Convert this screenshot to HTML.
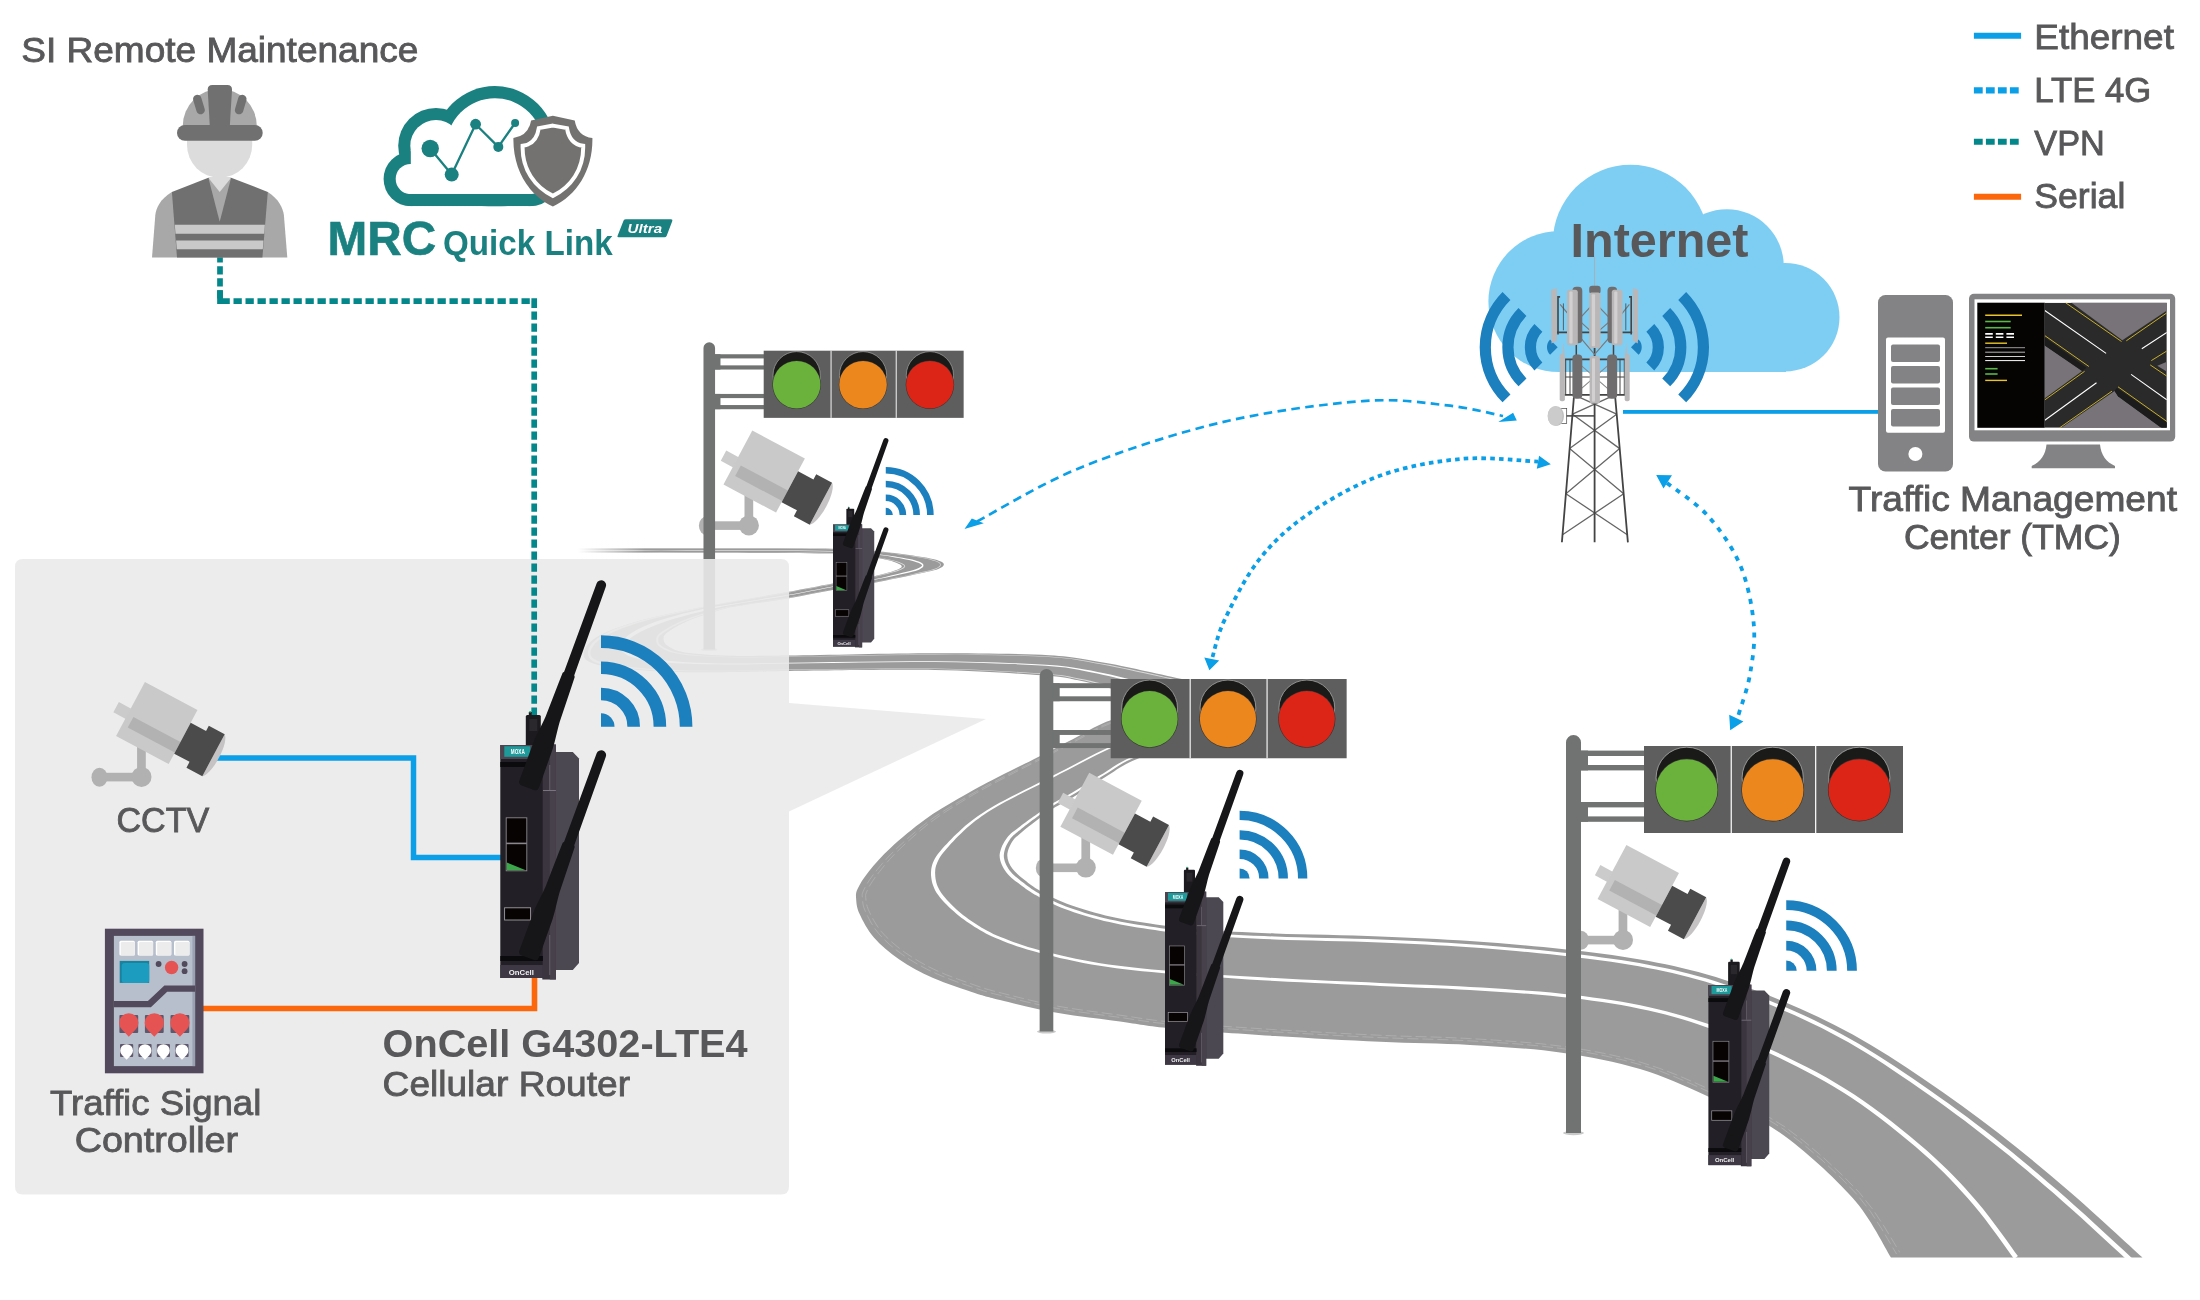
<!DOCTYPE html>
<html lang="en"><head><meta charset="utf-8"><title>OnCell G4302-LTE4 traffic application</title>
<style>
html,body{margin:0;padding:0;background:#fff}
body{width:2200px;height:1300px;overflow:hidden}
svg{display:block;will-change:transform}
text{font-family:"Liberation Sans",sans-serif}
</style></head><body>
<svg width="2200" height="1300" viewBox="0 0 2200 1300">
<defs>
<linearGradient id="fadeL" gradientUnits="userSpaceOnUse" x1="578" y1="0" x2="645" y2="0"><stop offset="0" stop-color="#fff" stop-opacity="1"/><stop offset="1" stop-color="#fff" stop-opacity="0"/></linearGradient>
<path id="ant" d="M-10.4 0 L-10.2 -40 C-9.6 -52 -8 -60 -7.5 -69 L-6.7 -106 L-6.4 -116 L-5.4 -117.5 L-4.9 -211.5 A4.9 4.9 0 0 1 4.9 -211.5 L5.4 -117.5 L6.4 -116 L6.7 -106 L7.5 -69 C8 -60 9.6 -52 10.2 -40 L10.4 0 Q10.4 4 6.5 4 L-6.5 4 Q-10.4 4 -10.4 0Z" fill="#161517"/>
<g id="wifi" fill="none" stroke="#1c7fbe" stroke-width="12.6"><path d="M0 -32.7 A32.7 32.7 0 0 1 32.7 0"/><path d="M0 -58.9 A58.9 58.9 0 0 1 58.9 0"/><path d="M0 -85.1 A85.1 85.1 0 0 1 85.1 0"/><path d="M0 0 L0 -13.5 A13.5 13.5 0 0 1 13.5 0Z" fill="#1c7fbe" stroke="none"/></g>
<g id="router"><rect x="25.5" y="-30" width="15" height="31" rx="1.5" fill="#1c1a1e"/><rect x="29" y="-26" width="8" height="12" fill="#2a272d"/><rect x="28.5" y="-33" width="3" height="4" fill="#1c1a1e"/><rect x="29" y="-34" width="1.6" height="1.6" fill="#27b37a"/><path d="M54 7 L72.5 7 L78.7 13.5 L78.7 218 L72.5 225 L54 225Z" fill="#4b4852"/><rect x="42" y="-0.5" width="13.6" height="235" fill="#3b353f"/><rect x="49.5" y="-0.5" width="6.1" height="235" fill="#47414c"/><rect x="42.6" y="45" width="13" height="1" fill="#7a7480"/><rect x="49" y="20" width="0.9" height="25" fill="#6a6470"/><rect x="49" y="190" width="0.9" height="40" fill="#6a6470"/><rect x="0" y="0" width="42.6" height="233" fill="#231f26"/><rect x="0" y="0" width="42.6" height="14" fill="#4a4550"/><rect x="4" y="1.2" width="26" height="10.6" fill="#1f9a9b"/><text x="10.5" y="9.3" font-size="6.4" font-weight="bold" fill="#fff" textLength="14" lengthAdjust="spacingAndGlyphs">MOXA</text><rect x="0" y="17" width="42.6" height="5" fill="#0b0a0c"/><rect x="0" y="211" width="42.6" height="5" fill="#0b0a0c"/><rect x="0" y="220" width="42.6" height="13" fill="#3d3844"/><text x="8.5" y="229.6" font-size="6.6" font-weight="bold" fill="#f2f2f2" textLength="25" lengthAdjust="spacingAndGlyphs">OnCell</text><rect x="5.9" y="72.8" width="20.6" height="53" fill="#070303" stroke="#8b888d" stroke-width="0.9"/><rect x="5.9" y="97.6" width="20.6" height="1.6" fill="#8b888d"/><path d="M6.5 125.3 L6.5 117.5 L25.5 125.3Z" fill="#3ba64a"/><rect x="4.3" y="162.8" width="26" height="12.2" fill="#070303" stroke="#a09da2" stroke-width="0.9"/><use href="#ant" transform="translate(28.9 39) rotate(19.9)"/><use href="#ant" transform="translate(28.9 209) rotate(19.9)"/><use href="#wifi" transform="translate(100.7 -18.3)"/></g>
<g id="camhead"><path d="M95 8.5 L95 56 C103 50 103 14.5 95 8.5Z" fill="#c5c3c4"/><rect x="-13.5" y="30" width="14" height="11.6" fill="#cbcbcb"/><rect x="0" y="0" width="59.6" height="61.2" fill="#c9c9c9"/><rect x="6.3" y="36.2" width="53.3" height="12" fill="#b2b2b2"/><path d="M59.6 14.4 L77 14.4 L77 8.5 L95 8.5 L95 56 L77 56 L77 49.4 L59.6 49.4Z" fill="#4b4b4b"/></g>
<g id="cam"><rect x="-7.8" y="60" width="8.7" height="35" fill="#b1b1b1"/><rect x="-45.4" y="90.8" width="42" height="8.6" fill="#b1b1b1"/><ellipse cx="-45.4" cy="95.3" rx="8" ry="9.5" fill="#b1b1b1"/><circle cx="-3.4" cy="94.9" r="10" fill="#b1b1b1"/><use href="#camhead" transform="rotate(28.1)"/></g>
<g id="tl"><ellipse cx="-70.5" cy="387" rx="10.5" ry="2.2" fill="#c9c9c9"/><path d="M-78 387 L-78 -3.5 A7.5 7.5 0 0 1 -63 -3.5 L-63 387Z" fill="#717373"/><rect x="-64" y="4.6" width="66" height="5.4" fill="#717373"/><rect x="-64" y="19" width="66" height="5.4" fill="#717373"/><rect x="-64" y="4.6" width="8" height="19.8" fill="#717373"/><rect x="-64" y="56" width="66" height="5.4" fill="#717373"/><rect x="-64" y="70.4" width="66" height="5.4" fill="#717373"/><rect x="-64" y="56" width="8" height="19.8" fill="#717373"/><rect x="0" y="0" width="259" height="87" fill="#5e5e5e"/><rect x="86.6" y="0" width="1.3" height="87" fill="#f4f4f4"/><rect x="171" y="0" width="1.3" height="87" fill="#f4f4f4"/><circle cx="42.7" cy="31.8" r="30.6" fill="#1a1a18" stroke="#bdbdbd" stroke-width="0.7"/><circle cx="42.7" cy="44" r="31.4" fill="#333"/><circle cx="42.7" cy="44" r="30.8" fill="#6ab23c"/><circle cx="128.7" cy="31.8" r="30.6" fill="#1a1a18" stroke="#bdbdbd" stroke-width="0.7"/><circle cx="128.7" cy="44" r="31.4" fill="#333"/><circle cx="128.7" cy="44" r="30.8" fill="#ec871e"/><circle cx="215.3" cy="31.8" r="30.6" fill="#1a1a18" stroke="#bdbdbd" stroke-width="0.7"/><circle cx="215.3" cy="44" r="31.4" fill="#333"/><circle cx="215.3" cy="44" r="30.8" fill="#dc2516"/></g>
</defs>
<g id="road">
<path d="M575 548.2C597.5 548.2 667.2 548.1 710 548.2C752.8 548.3 804.6 548.2 832 548.7C859.4 549.2 862.2 549.9 874.5 550.9C886.8 551.9 895.8 553.1 905.5 554.5C915.2 555.9 926.4 557.5 932.7 559C939.1 560.5 942.7 561.9 943.6 563.6C944.5 565.3 943.1 567.2 938.2 569C933.4 570.8 925.1 572.2 914.5 574.5C903.9 576.8 888.1 580.1 874.5 582.7C860.9 585.3 847 587.4 832.7 590C818.5 592.6 804.1 595.6 789 598.2C773.9 600.8 752.7 603.7 741.8 605.5C730.9 607.3 732.2 606.6 723.6 609C715 611.4 699.3 616.2 690 620C680.7 623.8 672.4 628.8 668 632C663.6 635.2 663.6 636.7 663.6 639C663.6 641.3 664.4 643.8 668 646C671.6 648.2 674.7 650.9 685 652.5C695.3 654.1 712.7 655.3 730 655.8C747.3 656.3 754.8 655.9 789 655.5C823.2 655.1 891.6 653.2 935 653.2C978.4 653.2 1020.9 653.6 1049.2 655.2C1077.5 656.8 1088.4 660.1 1104.6 662.8C1120.8 665.5 1133.2 668.5 1146.1 671.2C1159 673.9 1176 677.7 1182 679L1150 700C1143.5 698.1 1123 691.8 1110.8 688.5C1098.6 685.2 1088.3 682.3 1076.9 680.1C1065.5 677.9 1066 677 1042.3 675.3C1018.6 673.6 977.2 670.7 935 670C892.8 669.3 824.2 670.5 789 670.9C753.8 671.3 746.6 672.2 723.6 672.2C700.6 672.2 672.1 672.2 650.9 670.9C629.7 669.6 607.6 667.4 596.4 664.5C585.2 661.6 583.6 658.1 583.6 653.6C583.6 649.1 588.2 642.4 596.4 637.3C604.6 632.1 617.6 627.2 632.7 622.7C647.9 618.2 669.1 613.8 687.3 610C705.5 606.2 724.8 603 741.8 600C758.8 597 773.9 594.5 789 591.8C804.1 589.1 819.9 585.9 832.7 583.6C845.5 581.3 857.3 579.7 866 578C874.7 576.3 879.9 574.8 885 573.5C890.1 572.2 893.6 571.2 896.4 570C899.2 568.8 901.8 567.6 901.8 566.4C901.8 565.2 899.2 563.9 896.4 562.7C893.6 561.6 890.1 560.6 885 559.5C879.9 558.4 874.8 557.3 866 556.3C857.2 555.3 858 554.2 832 553.6C806 553 752.8 552.9 710 552.7C667.2 552.6 597.5 552.7 575 552.7Z" fill="#9b9b9b"/>
<path d="M575 550.7L589.8 550.7L610.5 550.7L634.9 550.7L661 550.6L686.7 550.7L710 550.7L732.1 550.8L754.7 550.8L777 550.9L798 551L816.7 551.2L832 551.4L843.4 551.7L851.4 552L857.2 552.5L861.6 552.9L865.6 553.4L870.2 553.8L875.2 554.4L879.7 554.9L883.9 555.5L887.8 556.1L891.5 556.7L895.2 557.4L898.9 558L902.4 558.7L905.9 559.4L909 560.1L911.9 560.8L914.4 561.5L916.5 562.2L918.3 562.8L919.9 563.5L921 564.2L921.7 564.8L922 565.2L922 565.6L921.8 566L921.1 566.6L920.1 567.3L918.7 568.1L917 568.8L915 569.6L912.6 570.3L909.9 571L906.8 571.8L903.4 572.6L899.6 573.5L895.5 574.5L891 575.6L886.2 576.7L881.1 577.9L875.7 579L870.2 580.1L864.5 581.2L858.5 582.2L852.3 583.2L845.9 584.3L839.4 585.4L832.7 586.6L825.8 587.8L818.7 589.2L811.4 590.6L804 592L796.5 593.4L788.9 594.7L781.2 596L773.1 597.3L764.9 598.6L756.8 599.9L749 601.2L741.7 602.4L735.1 603.5L729.1 604.5L723.4 605.5L717.6 606.3L711.7 607.3L705.2 608.6L698.1 610.2L690.5 611.9L682.6 613.8L674.9 615.9L667.5 617.9L660.9 620L654.9 622.1L649.2 624.3L643.9 626.5L639.1 628.8L634.8 631L631.2 633.2L628.2 635.3L625.8 637.4L623.9 639.6L622.6 641.8L621.8 644.1L621.6 646.3L621.7 648.3L622.3 650.4L623.6 652.4L625.5 654.1L628.1 655.7L631.6 657L635.9 658.2L640.9 659.3L646.7 660.3L653.1 661.2L660.2 662L667.9 662.7L676.3 663.2L685.7 663.6L695.7 663.9L706.1 664.2L716.5 664.3L726.8 664.4L736 664.5L744.2 664.4L752.5 664.2L761.9 664L773.8 663.8L789 663.6L808.9 663.3L832.8 662.9L859 662.5L885.8 662.2L911.7 662L935 662L956.3 662.3L977 662.8L996.7 663.4L1015 664.1L1031.5 664.9L1045.7 665.8L1057.1 666.7L1065.8 667.6L1072.7 668.7L1078.6 669.8L1084.3 671L1090.6 672.3L1097.3 673.6L1103.7 674.9L1109.9 676.3L1115.9 677.8L1122 679.3L1128.2 680.8L1134.9 682.5L1142.1 684.3L1149.3 686.1L1156 687.9L1161.7 689.4L1165.8 690.4L1166.2 688.6L1162.2 687.5L1156.5 686L1149.8 684.3L1142.6 682.4L1135.4 680.5L1128.7 678.9L1122.5 677.4L1116.4 676L1110.3 674.5L1104.1 673.2L1097.6 671.9L1090.9 670.6L1084.6 669.5L1078.9 668.4L1072.9 667.4L1066 666.5L1057.2 665.6L1045.8 664.7L1031.5 663.9L1015 663.2L996.7 662.5L977 661.9L956.3 661.4L935 661.2L911.7 661.2L885.8 661.4L859 661.7L832.8 662.1L808.9 662.5L789 662.8L773.7 663L761.9 663.3L752.4 663.4L744.2 663.6L736 663.6L726.8 663.6L716.5 663.4L706.1 663.1L695.7 662.7L685.8 662.2L676.4 661.5L668 660.7L660.5 659.8L653.5 658.7L647.2 657.5L641.6 656.2L636.8 654.8L632.8 653.5L629.8 652.2L627.9 651L626.7 649.8L626 648.7L625.7 647.6L625.6 646.3L625.8 645L626.2 643.5L627.1 641.9L628.5 640.1L630.5 638.1L633.2 636.1L636.6 634L640.6 631.8L645.2 629.5L650.4 627.2L655.9 624.9L661.8 622.7L668.3 620.5L675.6 618.3L683.3 616.2L691 614.1L698.6 612.2L705.7 610.4L712 608.8L717.9 607.5L723.5 606.3L729.2 605.2L735.3 604.2L741.9 603.1L749.1 601.9L756.9 600.6L765 599.3L773.2 598L781.3 596.7L789.1 595.3L796.6 593.9L804.1 592.5L811.5 591.1L818.8 589.7L825.9 588.3L832.7 587L839.4 585.9L846 584.8L852.4 583.7L858.6 582.7L864.6 581.6L870.3 580.6L875.8 579.5L881.2 578.4L886.3 577.4L891.2 576.4L895.7 575.4L899.9 574.5L903.6 573.7L907.1 573L910.2 572.3L913 571.6L915.4 570.9L917.6 570.2L919.4 569.4L920.9 568.6L922.1 567.8L923 566.9L923.4 565.9L923.4 564.8L922.8 563.8L921.8 563L920.5 562.3L918.8 561.6L916.9 560.9L914.7 560.2L912.2 559.6L909.3 559L906.1 558.4L902.6 557.8L899 557.2L895.3 556.6L891.6 556.1L887.9 555.5L884 555L879.8 554.4L875.3 553.9L870.3 553.4L865.6 552.9L861.6 552.4L857.2 552L851.5 551.6L843.4 551.2L832 550.9L816.7 550.7L798 550.5L777 550.4L754.7 550.3L732.1 550.3L710 550.2L686.7 550.2L661 550.2L634.9 550.2L610.5 550.2L589.8 550.2L575 550.2Z" fill="#fff"/>
<path d="M575 548.7L589.8 548.7L610.5 548.7L634.9 548.7L661 548.7L686.7 548.7L710 548.7L732 548.7L754.6 548.8L776.8 548.8L797.8 548.9L816.5 549L832 549.2L843.7 549.5L852.3 549.8L858.6 550.2L863.7 550.6L868.4 551L873.8 551.5L879.5 552L884.8 552.5L889.8 553.1L894.6 553.7L899.2 554.4L903.8 555.1L908.6 555.8L913.3 556.5L918 557.3L922.4 558.1L926.4 558.8L929.7 559.6L932.5 560.4L934.9 561.1L936.8 561.8L938.3 562.6L939.4 563.3L939.9 564L940.1 564.7L939.9 565.4L939.4 566.1L938.3 567L936.8 567.9L934.7 568.7L932.2 569.6L929.1 570.4L925.5 571.3L921.4 572.1L917 573.1L912.1 574.2L906.6 575.4L900.6 576.7L894.1 578.1L887.4 579.5L880.5 580.9L873.8 582.2L867.1 583.4L860.4 584.6L853.6 585.7L846.7 586.9L839.7 588.1L832.7 589.4L825.6 590.7L818.4 592L811.2 593.4L803.9 594.8L796.5 596.2L789 597.5L781 598.8L772.5 600.1L764 601.4L755.7 602.7L748.2 603.8L741.8 604.9L736.9 605.6L733.3 606.2L730.5 606.6L727.8 607L724.6 607.7L720.6 608.6L715.4 610L709.4 611.7L703 613.6L696.6 615.6L690.5 617.6L685.2 619.5L680.3 621.6L675.8 623.7L671.6 625.8L667.8 627.9L664.5 629.9L661.8 631.7L659.7 633.3L658.2 634.7L657.1 636.1L656.5 637.5L656.2 638.8L656.2 640.2L656.3 641.6L656.6 643L657.3 644.4L658.4 645.8L659.9 647.1L661.8 648.3L664 649.4L666.5 650.6L669.4 651.7L672.9 652.7L677.1 653.6L682.2 654.5L688.4 655.2L695.5 655.8L703.4 656.3L711.8 656.7L720.6 657.1L729.5 657.3L737.7 657.5L745.2 657.5L753.1 657.5L762.3 657.3L773.9 657.1L789 656.9L808.7 656.6L832.5 656.2L858.6 655.7L885.5 655.2L911.5 654.9L935 654.8L956.5 654.8L977.5 655L997.6 655.3L1016.4 655.8L1033.5 656.3L1048.6 657.1L1061.2 658L1071.4 659.1L1080 660.4L1087.6 661.8L1094.8 663.2L1102.3 664.6L1109.9 666L1117.1 667.4L1123.8 668.8L1130.4 670.2L1136.8 671.7L1143.2 673.1L1149.9 674.5L1156.9 676.1L1163.8 677.6L1170.1 679.1L1175.5 680.3L1179.3 681.1L1179.5 680.2L1175.7 679.3L1170.3 678.1L1164 676.7L1157.1 675.1L1150.1 673.6L1143.4 672.1L1137 670.7L1130.6 669.3L1124 667.9L1117.2 666.5L1110.1 665.1L1102.5 663.8L1094.9 662.5L1087.7 661.1L1080.1 659.8L1071.5 658.6L1061.2 657.5L1048.7 656.5L1033.6 655.8L1016.4 655.3L997.6 654.8L977.5 654.6L956.5 654.4L935 654.3L911.5 654.5L885.5 654.8L858.6 655.3L832.5 655.8L808.7 656.2L789 656.5L773.9 656.7L762.3 656.9L753.1 657.1L745.2 657.1L737.7 657.1L729.5 656.9L720.6 656.6L711.8 656.2L703.4 655.7L695.6 655L688.5 654.3L682.3 653.5L677.3 652.6L673.2 651.5L669.9 650.3L667.2 649.1L664.8 647.9L662.7 646.7L661 645.5L659.8 644.4L659 643.4L658.5 642.3L658.3 641.3L658.2 640.2L658.3 639.1L658.4 638.1L658.8 637.1L659.6 636L660.9 634.7L662.8 633.2L665.4 631.4L668.6 629.4L672.3 627.3L676.5 625.1L681 622.9L685.7 620.9L691 618.9L697 616.8L703.4 614.7L709.7 612.8L715.6 611L720.8 609.5L724.8 608.4L727.9 607.6L730.5 607L733.4 606.6L737 606L741.8 605.3L748.2 604.2L755.8 603.1L764 601.8L772.6 600.5L781.1 599.2L789 597.9L796.5 596.5L803.9 595.1L811.3 593.7L818.5 592.3L825.6 590.9L832.7 589.6L839.8 588.4L846.7 587.2L853.6 586L860.4 584.9L867.2 583.7L873.8 582.5L880.6 581.2L887.4 579.8L894.2 578.4L900.7 577.1L906.7 575.8L912.2 574.7L917.1 573.7L921.6 572.7L925.6 571.9L929.2 571.1L932.4 570.3L935 569.4L937.1 568.5L938.7 567.6L939.9 566.7L940.6 565.7L940.8 564.7L940.6 563.7L939.9 562.8L938.7 561.9L937.1 561.2L935.1 560.4L932.7 559.7L929.9 559L926.5 558.3L922.5 557.5L918.1 556.8L913.4 556.1L908.6 555.4L903.9 554.7L899.3 554.1L894.6 553.5L889.8 552.8L884.9 552.3L879.6 551.7L873.8 551.2L868.5 550.7L863.7 550.3L858.7 549.9L852.3 549.5L843.8 549.2L832 549L816.5 548.8L797.8 548.6L776.8 548.5L754.6 548.5L732 548.5L710 548.4L686.7 548.4L661 548.4L634.9 548.4L610.5 548.4L589.8 548.4L575 548.4Z" fill="#d9d9d9"/>
<path d="M575 552.6L589.8 552.5L610.5 552.5L634.9 552.5L661 552.5L686.7 552.5L710 552.6L732.1 552.6L754.9 552.7L777.3 552.8L798.3 553L816.9 553.2L832 553.4L843 553.8L850.5 554.2L855.7 554.6L859.4 555.1L862.7 555.6L866.6 556.1L870.8 556.6L874.5 557.1L877.9 557.7L880.9 558.2L883.7 558.8L886.4 559.4L889 559.9L891.3 560.5L893.5 561.1L895.4 561.6L897.2 562.2L898.8 562.8L900.3 563.4L901.6 564L902.7 564.7L903.6 565.3L904.1 565.8L904.3 566.2L904.2 566.6L903.7 567.1L902.9 567.7L901.8 568.3L900.6 568.9L899.2 569.5L897.6 570.1L895.9 570.7L894 571.3L891.9 571.9L889.6 572.6L887 573.3L884.2 574L881.3 574.8L878.1 575.6L874.7 576.5L870.8 577.3L866.6 578.2L861.8 579L856.6 579.9L851.1 580.8L845.2 581.7L839 582.8L832.7 583.9L826 585.1L819 586.4L811.6 587.8L804.2 589.3L796.6 590.7L789 592L781.3 593.3L773.7 594.7L765.9 596L758 597.3L749.9 598.7L741.8 600.1L733.4 601.6L724.8 603.1L716.1 604.6L707.4 606.1L698.5 607.7L689.7 609.4L680.7 611.2L671.4 613.2L662.1 615.2L653 617.3L644.3 619.5L636.5 621.7L629.2 623.9L622.4 626.2L616.1 628.6L610.4 631L605.3 633.5L600.8 636L597.1 638.7L593.9 641.4L591.4 644.3L589.6 647.1L588.4 649.9L588 652.5L588.2 654.9L588.9 657.2L590.4 659.3L592.9 661.2L596.4 662.8L601.1 664.3L607.3 665.6L614.9 666.8L623.6 667.8L633.1 668.8L643 669.5L653.3 670.2L664 670.7L675.7 671L687.8 671.2L700.2 671.3L712.4 671.3L724 671.3L734.3 671.2L743.1 671.1L751.8 670.8L761.6 670.6L773.6 670.3L789 670.1L809.1 669.8L833.1 669.5L859.3 669.2L886.2 668.9L911.9 668.9L935 669.1L956 669.6L976.4 670.3L995.7 671.3L1013.6 672.3L1029.4 673.3L1042.8 674.2L1052.9 675L1060.1 675.8L1065.3 676.6L1069.5 677.4L1073.7 678.3L1078.7 679.4L1084.5 680.6L1090.1 681.9L1095.7 683.2L1101.4 684.7L1107.1 686.2L1113.1 687.9L1119.8 689.7L1127.2 691.8L1134.7 694L1141.8 696.1L1147.8 697.8L1152.1 699.1L1152.4 698L1148.1 696.7L1142.1 695L1135.1 692.9L1127.5 690.7L1120.1 688.6L1113.4 686.7L1107.4 685.1L1101.7 683.6L1096 682.2L1090.4 680.8L1084.7 679.6L1078.9 678.4L1073.8 677.4L1069.7 676.6L1065.5 675.8L1060.2 675.1L1053 674.4L1042.8 673.6L1029.4 672.7L1013.6 671.7L995.8 670.7L976.4 669.8L956 669.1L935 668.6L911.9 668.4L886.2 668.4L859.3 668.7L833.1 669L809.1 669.3L789 669.6L773.5 669.8L761.6 670.1L751.8 670.3L743.1 670.6L734.3 670.7L724 670.8L712.4 670.7L700.2 670.6L687.9 670.4L675.7 670.1L664.1 669.7L653.3 669L643.1 668.2L633.2 667.2L623.8 666.1L615.2 664.9L607.7 663.6L601.7 662.1L597.2 660.7L594.1 659.1L592.2 657.6L591.1 656.1L590.6 654.5L590.4 652.6L590.7 650.6L591.7 648.2L593.3 645.7L595.5 643L598.4 640.4L602 637.8L606.2 635.4L611.2 632.9L616.9 630.4L623.1 628L629.8 625.7L637 623.3L644.8 621.1L653.3 618.8L662.4 616.6L671.7 614.5L681 612.4L690 610.5L698.7 608.6L707.5 606.8L716.2 605.1L724.9 603.6L733.5 602.1L741.8 600.6L750 599.2L758.1 597.8L766 596.5L773.7 595.2L781.4 593.8L789 592.5L796.6 591L804.2 589.6L811.7 588.2L819 586.8L826.1 585.4L832.7 584.2L839.1 583.1L845.3 582.1L851.1 581.1L856.7 580.2L861.9 579.4L866.6 578.5L870.9 577.6L874.8 576.8L878.2 576L881.4 575.3L884.4 574.6L887.1 573.9L889.7 573.2L892.1 572.6L894.2 572.1L896.2 571.5L897.9 570.9L899.5 570.3L900.9 569.7L902.3 569.1L903.4 568.5L904.3 567.8L904.9 567L905.2 566.2L904.8 565.3L904.1 564.6L903.2 563.9L902 563.3L900.6 562.7L899.1 562.1L897.4 561.5L895.6 561L893.6 560.5L891.5 560L889.1 559.4L886.5 558.9L883.8 558.4L880.9 557.9L877.9 557.3L874.6 556.8L870.9 556.3L866.6 555.7L862.7 555.3L859.4 554.8L855.7 554.3L850.6 553.8L843 553.4L832 553.1L816.9 552.8L798.3 552.6L777.3 552.5L754.9 552.4L732.1 552.3L710 552.2L686.7 552.2L661 552.1L634.9 552.2L610.5 552.2L589.8 552.2L575 552.2Z" fill="#dcdcdc"/>
<rect x="560" y="540" width="170" height="20" fill="url(#fadeL)"/>
<path d="M1150 700C1152.7 701.2 1166 704.8 1166 707C1166 709.2 1159.2 711.3 1150 713.5C1140.8 715.7 1123 716.4 1110.8 720.3C1098.6 724.2 1088.3 731.1 1076.9 736.9C1065.5 742.7 1056.4 747.7 1042.3 754.9C1028.2 762.1 1006.4 772.7 992.4 780C978.4 787.3 969.8 792 958.5 798.6C947.2 805.2 936 811.6 924.7 819.8C913.4 828 900.1 839.1 890.8 847.7C881.5 856.3 874.3 864.6 868.8 871.4C863.3 878.2 859.9 883.9 857.8 888.4C855.7 892.9 855.8 894.3 856.1 898.5C856.4 902.7 856.5 907.3 859.5 913.8C862.5 920.3 867.3 929.9 873.9 937.5C880.5 945.1 889.4 952.7 899.3 959.5C909.2 966.3 920.4 972.5 933.1 978.1C945.8 983.7 964.4 989.6 975.5 993.3C986.6 996.9 986.7 996.8 1000 1000C1013.3 1003.2 1035.4 1008.9 1055.4 1012.5C1075.4 1016.1 1100.6 1018.8 1120 1021.5C1139.4 1024.2 1146.2 1026.1 1172 1028.5C1197.8 1030.9 1240.3 1033.8 1275 1036C1309.7 1038.2 1347.5 1040.3 1380 1041.8C1412.5 1043.3 1439.7 1043.2 1470 1045C1500.3 1046.8 1533.5 1048.7 1561.8 1052.7C1590.1 1056.7 1615.8 1061.8 1640 1069C1664.2 1076.2 1683.7 1085.4 1707 1096C1730.3 1106.6 1755.7 1115.7 1780 1132.7C1804.3 1149.7 1834.2 1177.2 1852.7 1198C1871.2 1218.8 1884.6 1247.6 1891 1257.5L2142.5 1257.5C2130.4 1246.6 2094.1 1212.8 2070 1192C2045.9 1171.2 2022.2 1151.4 1998 1132.7C1973.8 1114 1949.2 1096.4 1925 1080C1900.8 1063.6 1876.9 1047.8 1852.7 1034.5C1828.5 1021.2 1804.3 1010 1780 1000C1755.7 990 1730.3 981.2 1707 974.5C1683.7 967.8 1664.2 963.8 1640 959.5C1615.8 955.2 1590.1 952.1 1561.8 949C1533.5 945.9 1500.3 943.1 1470 941C1439.7 938.9 1412.5 937.6 1380 936.4C1347.5 935.1 1305 934.6 1275 933.5C1245 932.4 1220.8 931.2 1200 929.5C1179.2 927.8 1165.8 925.9 1150 923.5C1134.2 921.1 1119.2 918.7 1105.4 915.4C1091.6 912.1 1077.8 907.9 1066.9 903.8C1056 899.7 1047 894.8 1040 890.8C1033 886.8 1029.2 883.7 1024.6 880C1020 876.3 1015.2 872.6 1012.3 868.5C1009.4 864.4 1007.3 859.9 1007.3 855.4C1007.3 850.9 1009.8 845.4 1012.3 841.5C1014.8 837.6 1018 835.5 1022 832C1026 828.5 1031 824.7 1036.2 820.8C1041.4 816.9 1046.7 812.6 1053.1 808.5C1059.5 804.4 1065.9 801.5 1074.6 796.2C1083.3 790.9 1094.5 783.3 1105.4 776.9C1116.3 770.5 1120.6 765.5 1140 757.7C1159.4 749.9 1206.7 739.6 1222 730C1237.3 720.4 1238.7 708.5 1232 700C1225.3 691.5 1190.3 682.5 1182 679Z" fill="#9b9b9b"/>
<path d="M1181.4 740.7L1169.3 744.1L1157.7 747.5L1147.2 750.8L1138.5 753.8L1131.7 756.7L1126.1 759.4L1121.4 761.9L1117.3 764.3L1113.7 766.6L1110.4 768.8L1107 771L1103.2 773.4L1099.1 775.8L1095 778.3L1090.9 780.9L1086.9 783.4L1083 785.9L1079.3 788.3L1075.7 790.5L1072.4 792.5L1069.3 794.3L1066.3 796L1063.5 797.5L1060.9 798.9L1058.3 800.3L1055.7 801.7L1053.2 803.1L1050.7 804.7L1048.2 806.2L1045.8 807.8L1043.6 809.3L1041.4 810.9L1039.3 812.4L1037.2 813.9L1035.2 815.4L1033.2 816.8L1031.2 818.2L1029.3 819.6L1027.3 821L1025.4 822.4L1023.6 823.8L1021.8 825.1L1020.1 826.5L1018.4 827.7L1016.9 828.9L1015.5 829.9L1014.1 831L1012.6 832.1L1011.1 833.3L1009.7 834.7L1008.2 836.3L1006.9 838L1005.7 839.7L1004.5 841.5L1003.4 843.5L1002.3 845.6L1001.4 847.8L1000.6 850.2L999.9 852.7L999.6 855.3L999.8 858L1000.3 860.4L1001 862.7L1001.9 864.9L1002.9 867L1004 869L1005.2 870.8L1006.6 872.7L1008.1 874.5L1009.8 876.3L1011.6 877.9L1013.4 879.4L1015.2 880.9L1017.1 882.3L1018.9 883.6L1020.7 884.9L1022.4 886.2L1024.2 887.5L1026 888.9L1027.9 890.2L1029.9 891.6L1032.1 893L1034.5 894.4L1037.1 895.8L1039.9 897.4L1042.9 899L1046.1 900.7L1049.5 902.4L1053 904.1L1056.8 905.8L1060.8 907.4L1064.9 909L1069.2 910.6L1073.8 912.2L1078.5 913.8L1083.4 915.3L1088.5 916.8L1093.6 918.2L1098.8 919.6L1104.1 920.9L1109.4 922.1L1114.9 923.3L1120.4 924.4L1126 925.4L1131.7 926.4L1137.4 927.4L1143.2 928.3L1149.1 929.2L1155 930.1L1160.7 930.9L1166.5 931.7L1172.4 932.5L1178.5 933.3L1185 934L1192 934.6L1199.5 935.3L1207.6 935.9L1215.9 936.5L1224.6 937L1233.8 937.6L1243.3 938.1L1253.3 938.5L1263.8 939L1274.8 939.4L1286.6 939.9L1299.3 940.2L1312.7 940.6L1326.4 940.9L1340.3 941.3L1353.9 941.6L1367.2 942L1379.8 942.5L1391.7 943L1403.2 943.5L1414.5 944L1425.5 944.6L1436.4 945.2L1447.4 945.8L1458.4 946.5L1469.6 947.3L1481 948.1L1492.6 949L1504.4 950L1516.1 951L1527.7 952.1L1539.1 953.2L1550.3 954.3L1561.1 955.5L1571.6 956.7L1581.8 957.9L1591.8 959.2L1601.6 960.5L1611.1 961.8L1620.5 963.2L1629.7 964.7L1638.8 966.3L1647.6 967.9L1656.1 969.6L1664.2 971.3L1672.3 973L1680.3 974.9L1688.3 977L1696.5 979.2L1704.9 981.6L1713.6 984.3L1722.5 987.1L1731.5 990.2L1740.6 993.3L1749.7 996.7L1758.8 1000.2L1767.9 1003.8L1776.9 1007.5L1785.9 1011.4L1794.8 1015.3L1803.8 1019.5L1812.7 1023.7L1821.7 1028.1L1830.6 1032.7L1839.5 1037.4L1848.4 1042.3L1857.2 1047.5L1866 1052.8L1874.9 1058.3L1883.8 1064.1L1892.6 1069.9L1901.5 1075.9L1910.5 1082L1919.4 1088.2L1928.4 1094.5L1937.4 1100.8L1946.4 1107.3L1955.4 1113.9L1964.4 1120.6L1973.4 1127.4L1982.4 1134.4L1991.3 1141.4L2000.2 1148.4L2009.1 1155.6L2017.9 1162.9L2026.8 1170.3L2035.6 1177.8L2044.5 1185.4L2053.4 1193.1L2062.3 1200.9L2071.7 1209.2L2081.8 1218.3L2092.3 1227.9L2102.6 1237.4L2112.4 1246.4L2121.2 1254.6L2128.6 1261.5L2134.1 1266.7L2137.4 1263.1L2131.8 1258L2124.4 1251.1L2115.6 1242.9L2105.8 1233.9L2095.5 1224.4L2085 1214.8L2074.8 1205.7L2065.4 1197.3L2056.5 1189.6L2047.5 1181.9L2038.6 1174.3L2029.7 1166.8L2020.9 1159.4L2011.9 1152.1L2003 1144.9L1994.1 1137.8L1985.1 1130.8L1976.1 1123.9L1967 1117.1L1958 1110.4L1948.9 1103.8L1939.9 1097.4L1930.8 1091L1921.8 1084.7L1912.8 1078.6L1903.8 1072.5L1894.9 1066.5L1886 1060.7L1877 1055L1868.1 1049.4L1859.2 1044.1L1850.3 1038.9L1841.3 1034L1832.3 1029.3L1823.4 1024.7L1814.4 1020.3L1805.4 1016.1L1796.4 1012L1787.3 1008L1778.3 1004.2L1769.2 1000.4L1760.1 996.8L1750.9 993.4L1741.8 990L1732.6 986.9L1723.6 983.9L1714.7 981L1705.9 978.3L1697.4 975.9L1689.1 973.7L1681 971.7L1673 969.8L1664.9 968.1L1656.7 966.4L1648.2 964.8L1639.4 963.1L1630.3 961.6L1621 960.1L1611.6 958.7L1602 957.4L1592.2 956.1L1582.2 954.8L1571.9 953.6L1561.4 952.4L1550.6 951.3L1539.4 950.1L1528 949L1516.3 948L1504.6 947L1492.9 946L1481.2 945.1L1469.8 944.3L1458.6 943.5L1447.5 942.8L1436.6 942.2L1425.7 941.6L1414.6 941L1403.4 940.5L1391.8 940L1379.9 939.5L1367.3 939.1L1354 938.7L1340.3 938.3L1326.5 938L1312.8 937.7L1299.4 937.3L1286.7 937L1274.9 936.5L1263.9 936.1L1253.4 935.7L1243.4 935.2L1233.9 934.7L1224.8 934.2L1216.1 933.7L1207.8 933.1L1199.8 932.5L1192.2 931.8L1185.3 931.2L1178.8 930.5L1172.7 929.7L1166.9 929L1161.1 928.2L1155.4 927.3L1149.6 926.5L1143.7 925.6L1137.9 924.7L1132.1 923.7L1126.5 922.7L1120.9 921.7L1115.4 920.6L1110 919.5L1104.7 918.3L1099.5 917L1094.3 915.6L1089.2 914.2L1084.2 912.7L1079.4 911.1L1074.7 909.6L1070.2 908L1065.9 906.4L1061.8 904.8L1058 903.2L1054.3 901.5L1050.8 899.8L1047.4 898.1L1044.3 896.4L1041.4 894.8L1038.6 893.2L1036 891.8L1033.7 890.3L1031.6 889L1029.7 887.6L1027.9 886.3L1026.1 885L1024.4 883.6L1022.7 882.3L1020.9 880.9L1019.2 879.5L1017.4 878.1L1015.7 876.7L1014 875.2L1012.4 873.7L1010.9 872.1L1009.6 870.4L1008.4 868.7L1007.4 867L1006.4 865.2L1005.5 863.3L1004.8 861.4L1004.3 859.5L1003.9 857.4L1003.8 855.4L1004 853.3L1004.4 851.2L1005 849.1L1005.7 847.1L1006.6 845.1L1007.6 843.3L1008.6 841.5L1009.6 839.9L1010.7 838.3L1011.9 836.9L1013.2 835.6L1014.5 834.4L1015.9 833.3L1017.2 832.2L1018.6 831.1L1020.1 829.9L1021.7 828.5L1023.4 827.2L1025.1 825.8L1026.9 824.4L1028.8 823L1030.7 821.6L1032.6 820.1L1034.6 818.7L1036.5 817.2L1038.5 815.7L1040.6 814.2L1042.7 812.7L1044.8 811.1L1047 809.6L1049.4 808L1051.8 806.4L1054.2 804.9L1056.7 803.5L1059.2 802.1L1061.8 800.7L1064.5 799.3L1067.3 797.7L1070.3 796.1L1073.4 794.2L1076.8 792.2L1080.3 789.9L1084.1 787.6L1088 785.1L1091.9 782.5L1096 780L1100.1 777.4L1104.2 775L1108 772.7L1111.4 770.4L1114.8 768.2L1118.3 765.9L1122.3 763.6L1126.9 761.1L1132.5 758.5L1139.2 755.6L1147.8 752.5L1158.2 749.3L1169.8 745.9L1181.9 742.4Z" fill="#fff"/>
<path d="M1171.7 721.3L1167 723.2L1160.6 725.7L1153.1 728.7L1144.7 732.1L1135.9 735.7L1126.9 739.4L1118.4 743L1110.4 746.5L1103 750L1095.7 753.6L1088.4 757.3L1081.2 761L1074.1 764.7L1067 768.4L1060 772.1L1053 775.6L1046 779.2L1038.8 782.8L1031.6 786.4L1024.4 789.9L1017.6 793.4L1011 796.7L1005 799.9L999.5 802.8L994.7 805.5L990.5 808L986.8 810.2L983.4 812.4L980.3 814.4L977.3 816.5L974.3 818.7L971.3 821.1L968.1 823.5L965 826.1L962 828.7L959.2 831.4L956.4 834.1L953.7 836.6L951.2 839.2L948.9 841.6L946.7 843.9L944.6 846.1L942.6 848.2L940.8 850.4L939.1 852.5L937.5 854.5L936.1 856.6L934.8 858.7L933.8 860.8L932.9 862.8L932.2 864.8L931.7 866.8L931.3 868.8L931.1 870.8L931 872.8L931 874.9L931.2 877L931.5 879.2L931.9 881.4L932.4 883.6L933.2 885.8L934.1 888.1L935.2 890.4L936.5 892.7L938.2 895.1L940 897.5L942.1 899.9L944.4 902.4L946.7 904.8L949.1 907.2L951.6 909.4L954 911.6L956.4 913.7L958.8 915.8L961.3 917.7L963.9 919.6L966.5 921.5L969.2 923.3L971.9 925.1L974.7 926.9L977.5 928.6L980.2 930.2L983 931.8L985.9 933.4L988.9 934.9L992.1 936.4L995.6 938L999.5 939.6L1003.5 941.2L1007.8 942.9L1012.2 944.5L1016.9 946.2L1021.9 947.8L1027.2 949.5L1032.9 951.1L1039 952.8L1045.5 954.4L1052.4 956.1L1059.7 957.9L1067.3 959.6L1075.2 961.3L1083.3 962.9L1091.5 964.4L1099.8 965.8L1108.1 967L1116.4 968.2L1124.7 969.3L1133.3 970.2L1142.2 971.2L1151.6 972.1L1161.5 973L1172.1 973.9L1183.5 974.9L1195.6 975.8L1208.3 976.7L1221.5 977.6L1234.9 978.5L1248.3 979.4L1261.8 980.2L1274.9 980.9L1288 981.7L1301.4 982.3L1314.8 983L1328.2 983.6L1341.6 984.2L1354.7 984.8L1367.5 985.3L1379.9 985.9L1391.9 986.4L1403.4 986.9L1414.7 987.4L1425.8 987.9L1436.7 988.3L1447.7 988.8L1458.7 989.4L1469.9 990L1481.4 990.7L1493 991.5L1504.8 992.2L1516.5 993L1528.2 993.8L1539.6 994.8L1550.8 995.8L1561.6 996.9L1572.1 998.1L1582.4 999.3L1592.4 1000.7L1602.2 1002.1L1611.8 1003.5L1621.3 1005.1L1630.5 1006.8L1639.7 1008.7L1648.5 1010.6L1657 1012.5L1665.3 1014.6L1673.4 1016.8L1681.4 1019.1L1689.6 1021.6L1697.8 1024.3L1706.4 1027.2L1715.2 1030.4L1724.2 1033.8L1733.3 1037.4L1742.4 1041.1L1751.6 1045.1L1760.8 1049.2L1770 1053.4L1779.2 1057.8L1788.2 1062.2L1797.3 1066.7L1806.4 1071.4L1815.4 1076.2L1824.5 1081.2L1833.5 1086.4L1842.5 1091.9L1851.5 1097.8L1860.7 1104L1870.1 1110.7L1879.5 1117.8L1888.9 1125L1898.2 1132.4L1907.1 1139.7L1915.6 1146.8L1923.5 1153.7L1930.9 1160.3L1937.7 1166.7L1944.2 1173L1950.3 1179.2L1956.2 1185.4L1961.9 1191.7L1967.6 1198L1973.2 1204.5L1979 1211.5L1985 1219.1L1990.9 1227L1996.7 1234.8L2002.1 1242.3L2006.9 1249L2011 1254.7L2014.1 1258.9L2017.9 1256.1L2014.8 1251.9L2010.8 1246.2L2006 1239.5L2000.5 1232L1994.7 1224.2L1988.7 1216.2L1982.7 1208.5L1976.8 1201.5L1971.1 1194.9L1965.4 1188.6L1959.6 1182.3L1953.6 1176L1947.4 1169.7L1940.8 1163.4L1933.9 1156.9L1926.5 1150.3L1918.5 1143.4L1909.9 1136.3L1900.9 1129L1891.6 1121.6L1882.1 1114.3L1872.6 1107.3L1863.1 1100.5L1853.9 1094.2L1844.7 1088.4L1835.6 1082.9L1826.5 1077.6L1817.4 1072.6L1808.2 1067.8L1799.1 1063.2L1790 1058.7L1780.8 1054.2L1771.7 1049.9L1762.4 1045.7L1753.1 1041.6L1743.9 1037.7L1734.6 1033.9L1725.5 1030.3L1716.5 1027L1707.6 1023.8L1699 1020.9L1690.6 1018.2L1682.4 1015.7L1674.3 1013.4L1666.1 1011.2L1657.8 1009.2L1649.2 1007.2L1640.3 1005.3L1631.2 1003.5L1621.8 1001.8L1612.4 1000.3L1602.7 998.8L1592.8 997.4L1582.8 996.1L1572.5 994.9L1562 993.7L1551.1 992.6L1539.9 991.6L1528.4 990.7L1516.7 989.9L1505 989.1L1493.2 988.3L1481.6 987.6L1470.1 987L1458.8 986.3L1447.8 985.8L1436.8 985.3L1425.9 984.8L1414.8 984.4L1403.6 983.9L1392 983.4L1380.1 982.9L1367.6 982.3L1354.8 981.8L1341.7 981.2L1328.4 980.7L1314.9 980.1L1301.5 979.4L1288.2 978.8L1275.1 978.1L1261.9 977.3L1248.5 976.5L1235 975.7L1221.6 974.9L1208.5 974L1195.8 973.1L1183.7 972.2L1172.3 971.3L1161.8 970.3L1151.9 969.4L1142.5 968.5L1133.6 967.6L1125 966.6L1116.7 965.6L1108.5 964.5L1100.2 963.2L1091.9 961.8L1083.8 960.3L1075.7 958.7L1067.9 957L1060.3 955.3L1053 953.6L1046.1 951.9L1039.6 950.2L1033.6 948.6L1028 946.9L1022.8 945.3L1017.8 943.6L1013.2 941.9L1008.8 940.3L1004.6 938.6L1000.5 937L996.8 935.4L993.3 933.9L990.2 932.3L987.2 930.8L984.5 929.2L981.7 927.7L979 926L976.3 924.3L973.6 922.6L970.9 920.8L968.3 919L965.8 917.1L963.3 915.2L960.9 913.3L958.5 911.2L956.2 909.2L953.9 907L951.6 904.7L949.2 902.3L947 899.9L944.9 897.5L943 895.2L941.3 892.9L939.9 890.7L938.7 888.6L937.7 886.5L936.9 884.5L936.3 882.5L935.9 880.5L935.5 878.6L935.3 876.6L935.2 874.7L935.1 872.8L935.2 871.1L935.3 869.3L935.6 867.6L936 865.9L936.6 864.2L937.3 862.4L938.2 860.5L939.2 858.5L940.4 856.6L941.8 854.6L943.4 852.5L945.1 850.4L947 848.2L949 846L951.1 843.6L953.4 841.2L955.8 838.6L958.3 836L961 833.4L963.8 830.7L966.7 828L969.7 825.4L972.7 822.9L975.7 820.6L978.7 818.4L981.6 816.3L984.6 814.2L987.9 812L991.6 809.8L995.8 807.3L1000.5 804.6L1005.9 801.6L1011.9 798.4L1018.4 795L1025.3 791.6L1032.4 788L1039.6 784.4L1046.8 780.7L1053.8 777.2L1060.7 773.6L1067.8 769.9L1074.9 766.2L1082 762.5L1089.2 758.8L1096.5 755.1L1103.8 751.5L1111.2 748.1L1119 744.6L1127.6 740.9L1136.5 737.2L1145.3 733.6L1153.7 730.2L1161.2 727.2L1167.5 724.6L1172.3 722.7Z" fill="#fff"/>
<path d="M1111.4 722.1L1102.7 725.4L1094.5 729.6L1086.2 734.1L1077.8 738.6L1069.6 742.9L1061.5 747.2L1053 751.7L1043.2 756.8L1031.5 762.7L1018.3 769.3L1005.1 776L993.5 782.1L983.9 787.2L975.7 791.8L967.9 796.2L959.9 801L951.5 806.1L943.2 811.3L935 816.7L926.8 822.7L918.3 829.4L909.6 836.8L901.3 844.2L894 851.1L887.7 857.5L882.2 863.7L877.3 869.5L873.1 874.9L869.7 879.6L867 883.9L864.9 887.7L863.3 891L862.5 893.3L862.2 894.4L862.2 895.6L862.4 898.1L862.6 901.2L863 904.2L863.8 907.4L865.3 911.2L867.7 916.3L870.7 922.1L874.4 928L878.6 933.5L883.6 938.9L889.3 944.3L895.7 949.6L902.6 954.7L909.9 959.6L917.8 964.3L926.3 968.9L935.3 973.2L945.4 977.5L956.5 981.7L967.5 985.5L977 988.7L983.6 990.9L988.2 992.2L993.2 993.6L1001.1 995.5L1012.5 998.4L1026.2 1001.8L1041.1 1005.2L1056.2 1008.3L1071.8 1010.9L1088.5 1013.2L1105 1015.4L1120.6 1017.5L1133.3 1019.4L1144.2 1021.1L1156.2 1022.7L1172.4 1024.5L1194.4 1026.4L1220.5 1028.3L1248.2 1030.2L1275.3 1031.9L1301.7 1033.5L1328.5 1035L1355 1036.4L1380.2 1037.6L1403.6 1038.5L1425.9 1039.1L1447.9 1039.8L1470.2 1040.9L1493.4 1042.3L1517 1043.9L1540.2 1046L1562.4 1048.6L1583.3 1051.8L1603.3 1055.5L1622.6 1059.9L1641.2 1064.9L1658.9 1070.6L1675.5 1077.1L1692 1084.2L1708.9 1091.8L1726.7 1099.5L1745.1 1107.7L1763.9 1117.1L1782.8 1128.7L1802.1 1143.3L1822 1160.1L1840.7 1177.6L1856.9 1194.4L1870.4 1211.4L1881.6 1228.7L1890.5 1243.8L1896.6 1254.1" fill="none" stroke="#b9b9b9" stroke-width="0.6" stroke-dasharray="11 4"/>
<path d="M1111.7 723L1103.2 726.4L1094.9 730.5L1086.7 735.1L1078.3 739.6L1070.1 743.9L1062.1 748.1L1053.5 752.7L1043.8 757.8L1032 763.7L1018.8 770.4L1005.7 777.2L994.1 783.2L984.6 788.4L976.3 793L968.6 797.5L960.7 802.3L952.3 807.5L944.1 812.7L936 818.3L927.9 824.3L919.6 831.1L911.1 838.5L902.9 846L895.7 853L889.6 859.4L884.3 865.6L879.6 871.5L875.5 876.8L872.3 881.5L869.7 885.6L867.8 889.3L866.4 892.4L865.7 894.4L865.6 894.9L865.6 895.6L865.8 897.9L866 900.9L866.4 903.6L867.1 906.3L868.4 909.8L870.8 914.8L873.7 920.4L877.2 926L881.1 931.3L885.9 936.5L891.5 941.8L897.7 947L904.4 952.1L911.6 956.9L919.3 961.6L927.6 966.2L936.4 970.5L946.4 974.8L957.5 979L968.4 982.9L977.8 986.2L984.3 988.4L988.8 989.7L993.8 991.1L1001.7 993.1L1013.1 996L1026.8 999.4L1041.6 1002.9L1056.6 1006L1072.1 1008.6L1088.7 1011L1105.3 1013.2L1120.9 1015.3L1133.7 1017.2L1144.5 1018.9L1156.5 1020.5L1172.6 1022.3L1194.6 1024.1L1220.6 1026.1L1248.3 1027.9L1275.4 1029.7L1301.8 1031.2L1328.7 1032.7L1355.1 1034.1L1380.3 1035.3L1403.7 1036.2L1426 1036.8L1448 1037.5L1470.4 1038.6L1493.5 1040L1517.1 1041.7L1540.4 1043.7L1562.7 1046.4L1583.6 1049.6L1603.8 1053.3L1623.1 1057.6L1641.9 1062.6L1659.7 1068.4L1676.5 1074.8L1693 1081.9L1709.9 1089.5L1727.7 1097.2L1746.2 1105.4L1765.2 1114.9L1784.3 1126.5L1803.9 1141.2L1823.9 1158L1842.8 1175.6L1859.2 1192.4L1873 1209.6L1884.5 1227L1893.6 1242.1L1899.7 1252.3" fill="none" stroke="#b9b9b9" stroke-width="0.6" stroke-dasharray="11 4"/>
<rect x="1850" y="1258" width="320" height="42" fill="#fff"/>
</g>
<use href="#cam" transform="translate(752.3 430.5)"/>
<use href="#tl" transform="translate(763.7 350.7) scale(0.7720)"/>
<use href="#router" transform="translate(833 524.5) scale(0.5240)"/>
<path d="M23 559 L781 559 Q789 559 789 567 L789 703 L986 719 L789 811.5 L789 1186.5 Q789 1194.5 781 1194.5 L23 1194.5 Q15 1194.5 15 1186.5 L15 567 Q15 559 23 559Z" fill="#eaeaea" fill-opacity="0.9"/>
<use href="#cam" transform="translate(1089.2 772.7)"/>
<use href="#tl" transform="translate(1110.7 679) scale(0.9110)"/>
<use href="#router" transform="translate(1165 892) scale(0.7410)"/>
<use href="#cam" transform="translate(1626.4 845)"/>
<use href="#tl" transform="translate(1644 746)"/>
<use href="#router" transform="translate(1708.4 985) scale(0.7730)"/>
<path d="M977 521.5C994.3 512.5 1040.2 483.9 1081 467.4C1121.8 450.9 1174.8 433.4 1221.8 422.3C1268.8 411.2 1325.2 403.9 1362.8 401.1C1400.4 398.3 1423.9 402.9 1447.3 405.4C1470.7 407.9 1493.7 414.2 1503 416" fill="none" stroke="#0a9fe6" stroke-width="2.7" stroke-dasharray="8.6 5.4"/>
<path d="M1212.5 657C1214.5 650.8 1217 635.7 1224.7 619.6C1232.4 603.5 1244.9 577.8 1258.5 560.4C1272.1 543 1286.2 529.4 1306.4 515.3C1326.6 501.2 1353.9 485.2 1379.7 475.8C1405.5 466.4 1435 461.3 1461.4 458.9C1487.8 456.5 1525.2 461.2 1538 461.6" fill="none" stroke="#0a9fe6" stroke-width="3.8" stroke-dasharray="4.6 4.2"/>
<path d="M1667 483C1673.9 488.6 1696.1 502.5 1708.3 516.3C1720.5 530 1732.7 547.5 1740.3 565.5C1747.9 583.5 1752.2 606.6 1753.8 624.6C1755.4 642.6 1752.6 659 1750.1 673.8C1747.6 688.6 1741.3 705.7 1739 713.2C1736.7 720.7 1736.5 718 1736 719" fill="none" stroke="#0a9fe6" stroke-width="3.8" stroke-dasharray="5 6.3"/>
<path d="M964.5 528.9 L971.8 518.6 L983.8 523.2ZM1498.3 422.0 L1513.1 412.8 L1516.8 420.4ZM1204.3 657.5 L1219.2 660.5 L1209.4 670.2ZM1539.1 455.8 L1550.8 464.3 L1536.8 468.8ZM1656.2 474.9 L1672.0 475.2 L1663.5 488.5ZM1729.2 714.8 L1743.4 721.5 L1730.2 730.2Z" fill="#0a9fe6"/>
<g fill="none" stroke="#04878a" stroke-width="5.7">
<path d="M220 254.2 L220 298.4" stroke-dasharray="8.3 3.7"/>
<path d="M220 290.2 L220 301.1 L229.8 301.1"/>
<path d="M233.5 301.1 L530 301.1" stroke-dasharray="8.3 3.7"/>
<path d="M531.4 301.1 L534.2 301.1 L534.2 308.1"/>
<path d="M534.2 311.4 L534.2 716" stroke-dasharray="8.3 3.7"/>
</g>
<path d="M214 758 L413.5 758 L413.5 857.5 L501 857.5" fill="none" stroke="#0a9fe6" stroke-width="5.5"/>
<path d="M203 1008.5 L534.5 1008.5 L534.5 977" fill="none" stroke="#fb670a" stroke-width="5.6"/>
<use href="#cam" transform="translate(144.9 682)"/>
<use href="#router" transform="translate(500.3 745)"/>
<g transform="translate(104.9 928.7)"><rect x="0" y="0" width="98.6" height="144.6" fill="#524a5c"/><rect x="9" y="7.2" width="81.2" height="130.2" fill="#b8bfcc"/><rect x="87.5" y="7.2" width="2.7" height="130.2" fill="#9aa1b2"/><path d="M9 72.4 L43 72.4 L59.5 56.7 L90.2 56.7 L90.2 63 L62.3 63 L46 78.6 L9 78.6Z" fill="#524a5c"/><rect x="14.5" y="12" width="15.5" height="14.7" rx="1.5" fill="#fff"/><rect x="15.9" y="13.4" width="14.1" height="13.3" rx="1.2" fill="#ececec"/><rect x="32.7" y="12" width="15.5" height="14.7" rx="1.5" fill="#fff"/><rect x="34.1" y="13.4" width="14.1" height="13.3" rx="1.2" fill="#ececec"/><rect x="50.9" y="12" width="15.5" height="14.7" rx="1.5" fill="#fff"/><rect x="52.3" y="13.4" width="14.1" height="13.3" rx="1.2" fill="#ececec"/><rect x="69.1" y="12" width="15.5" height="14.7" rx="1.5" fill="#fff"/><rect x="70.5" y="13.4" width="14.1" height="13.3" rx="1.2" fill="#ececec"/><rect x="14.8" y="32.2" width="29.5" height="22" fill="#17839f"/><rect x="16.8" y="34.4" width="27.5" height="19.8" rx="3" fill="#1c9dc0"/><circle cx="53.7" cy="35.3" r="2.9" fill="#524a5c"/><circle cx="79.7" cy="35.3" r="2.9" fill="#524a5c"/><circle cx="79.7" cy="42.5" r="2.9" fill="#524a5c"/><circle cx="66.7" cy="38.8" r="6.7" fill="#e55353"/><rect x="14.5" y="86.2" width="18.8" height="18" rx="1" fill="#5f586c"/><path d="M23.9 108 L17.3 101 A9.6 9.6 0 1 1 30.5 101Z" fill="#e55353"/><rect x="40" y="86.2" width="18.8" height="18" rx="1" fill="#5f586c"/><path d="M49.4 108 L42.8 101 A9.6 9.6 0 1 1 56 101Z" fill="#e55353"/><rect x="65.6" y="86.2" width="18.8" height="18" rx="1" fill="#5f586c"/><path d="M75 108 L68.4 101 A9.6 9.6 0 1 1 81.6 101Z" fill="#e55353"/><rect x="15.1" y="115.3" width="13.2" height="13" rx="1" fill="#5f586c"/><path d="M21.7 131 L17.3 126.5 A6.4 6.4 0 1 1 26.1 126.5Z" fill="#fff"/><rect x="33.5" y="115.3" width="13.2" height="13" rx="1" fill="#5f586c"/><path d="M40.1 131 L35.7 126.5 A6.4 6.4 0 1 1 44.5 126.5Z" fill="#fff"/><rect x="51.9" y="115.3" width="13.2" height="13" rx="1" fill="#5f586c"/><path d="M58.5 131 L54.1 126.5 A6.4 6.4 0 1 1 62.9 126.5Z" fill="#fff"/><rect x="70.5" y="115.3" width="13.2" height="13" rx="1" fill="#5f586c"/><path d="M77.1 131 L72.7 126.5 A6.4 6.4 0 1 1 81.5 126.5Z" fill="#fff"/></g>
<g id="cloud" fill="#7ecef4">
<circle cx="1558.8" cy="301.6" r="70.4"/>
<circle cx="1630.6" cy="242.6" r="77.8"/>
<circle cx="1726.8" cy="266.2" r="57"/>
<circle cx="1785.2" cy="317.2" r="54.3"/>
<rect x="1558" y="300" width="228" height="72"/>
</g>
<path d="M1538.4 366.5 A27.3 27.3 0 0 1 1538.4 327.9" fill="none" stroke="#1c7fbe" stroke-width="11.2"/>
<path d="M1650.3 327.9 A27.3 27.3 0 0 1 1650.3 366.5" fill="none" stroke="#1c7fbe" stroke-width="11.2"/>
<path d="M1522.5 382.4 A49.8 49.8 0 0 1 1522.5 312" fill="none" stroke="#1c7fbe" stroke-width="11.2"/>
<path d="M1666.2 312 A49.8 49.8 0 0 1 1666.2 382.4" fill="none" stroke="#1c7fbe" stroke-width="11.2"/>
<path d="M1506.5 398.4 A72.4 72.4 0 0 1 1506.5 296" fill="none" stroke="#1c7fbe" stroke-width="11.2"/>
<path d="M1682.2 296 A72.4 72.4 0 0 1 1682.2 398.4" fill="none" stroke="#1c7fbe" stroke-width="11.2"/>
<path d="M1557.7 347.2 L1550.1 354.8 A10.8 10.8 0 0 1 1550.1 339.6Z" fill="#1c7fbe"/>
<path d="M1631 347.2 L1638.6 339.6 A10.8 10.8 0 0 1 1638.6 354.8Z" fill="#1c7fbe"/>
<g id="tower"><path d="M1594.6 256.7L1594.6 287.2" fill="none" stroke="#a9a9a9" stroke-width="0.8"/><path d="M1574.1 394.8L1616.7 414.2M1615 394.8L1572.5 414.2M1572.5 414.2L1619.7 448.6M1616.7 414.2L1569.6 448.6M1569.6 448.6L1623.7 493.8M1619.7 448.6L1565.9 493.8M1565.9 493.8L1627.3 534.7M1623.7 493.8L1562.5 534.7" fill="none" stroke="#666666" stroke-width="1.3"/><path d="M1574.1 394.8L1561.9 542.3M1615 394.8L1627.9 542.3M1594.6 347.5L1594.6 542.3" fill="none" stroke="#444444" stroke-width="1.8"/><path d="M1577.8 334.6L1594.6 354.4L1611.8 334.6M1578.4 319.9L1594.6 302.3L1611.4 319.9M1578.4 319.9L1594.6 334.6M1611.4 319.9L1594.6 334.6M1560.1 304.4L1568.3 314.1M1629.4 304.4L1621.5 314.1" fill="none" stroke="#7b7979" stroke-width="1.2"/><path d="M1560.1 296.9L1558 296.9L1558 334.6M1629 296.9L1631.2 296.9L1631.2 334.6M1556.9 332.4L1632.2 332.4" fill="none" stroke="#444444" stroke-width="1.6"/><path d="M1563.4 303.4L1563.4 330.3M1625.8 303.4L1625.8 330.3" fill="none" stroke="#444444" stroke-width="0.8"/><path d="M1576.3 344.3L1576.3 359.3M1613.5 344.3L1613.5 359.3" fill="none" stroke="#444444" stroke-width="1.5"/><rect x="1572.4" y="286.8" width="9.9" height="56.4" rx="4" fill="#6f6d6e"/><rect x="1589.2" y="285.7" width="11.4" height="8.4" rx="3" fill="#6f6d6e"/><rect x="1607.5" y="286.8" width="9.7" height="56.4" rx="4" fill="#6f6d6e"/><path d="M1574.1 359.3L1615 394.8M1615 359.3L1574.1 394.8" fill="none" stroke="#8a8888" stroke-width="1.1"/><path d="M1565.1 359.3L1625.1 359.3M1564 394.8L1626.2 394.8" fill="none" stroke="#444444" stroke-width="1.7"/><path d="M1565.5 377L1624.7 377" fill="none" stroke="#444444" stroke-width="1"/><path d="M1565.7 359.3L1565.7 394.8M1570 359.3L1570 394.8M1620 359.3L1620 394.8M1624.3 359.3L1624.3 394.8" fill="none" stroke="#444444" stroke-width="1"/><rect x="1572.4" y="354.6" width="9.9" height="44.1" rx="4" fill="#6f6d6e"/><rect x="1607.1" y="354.6" width="10.1" height="44.1" rx="4" fill="#6f6d6e"/><path d="M1551.1 289.8 L1556.9 288.3 L1556.9 340.6 L1551.5 343.6Z" fill="#b9b7b8"/><path d="M1632.9 288.3 L1638.3 289.8 L1637.8 343.6 L1632.9 340.6Z" fill="#b9b7b8"/><rect x="1567" y="289.8" width="10.8" height="55.5" rx="2.5" fill="#b9b7b8"/><rect x="1569.4" y="291.5" width="3.2" height="52.1" rx="1" fill="#d2d0d1"/><rect x="1589.2" y="292.6" width="11.4" height="55.3" rx="2.5" fill="#b9b7b8"/><rect x="1591.7" y="294.3" width="3.4" height="51.9" rx="1" fill="#d2d0d1"/><rect x="1611.8" y="289.8" width="10.8" height="55.5" rx="2.5" fill="#b9b7b8"/><rect x="1614.2" y="291.5" width="3.2" height="52.1" rx="1" fill="#d2d0d1"/><path d="M1563.6 342.1 L1564.7 355 L1562.5 355Z" fill="#b9b7b8"/><path d="M1626.2 342.1 L1627.3 355 L1625.1 355Z" fill="#b9b7b8"/><rect x="1559.7" y="353.9" width="5.2" height="47.4" rx="2" fill="#b9b7b8"/><rect x="1624.7" y="353.9" width="5" height="47.4" rx="2" fill="#b9b7b8"/><rect x="1589.6" y="356.1" width="10.3" height="47.4" rx="2.5" fill="#b9b7b8"/><rect x="1592" y="358.2" width="3" height="43.5" rx="1" fill="#d2d0d1"/><rect x="1560.1" y="408.4" width="6.6" height="15.2" fill="none" stroke="#444444" stroke-width="0.7"/><path d="M1566.6 415.9L1594.6 415.9" fill="none" stroke="#444444" stroke-width="1.5"/><ellipse cx="1555.8" cy="416" rx="8.2" ry="10.1" fill="#c9c9c9"/><ellipse cx="1557.2" cy="416.4" rx="6.4" ry="9.2" fill="#bdbdbd"/><ellipse cx="1555.2" cy="416" rx="7.4" ry="9.8" fill="#cbcbcb"/></g>
<rect x="1623" y="410" width="256" height="3.8" fill="#0a9fe6"/>
<g id="pc"><rect x="1878" y="295" width="75" height="176.4" rx="7.5" fill="#838385"/><rect x="1886" y="337.5" width="59" height="95.3" rx="2" fill="#fff"/><rect x="1891" y="344.6" width="49" height="17.4" rx="2" fill="#838385"/><rect x="1891" y="366" width="49" height="17.4" rx="2" fill="#838385"/><rect x="1891" y="387.5" width="49" height="17.4" rx="2" fill="#838385"/><rect x="1891" y="409" width="49" height="17.4" rx="2" fill="#838385"/><circle cx="1915.4" cy="454" r="7" fill="#fff"/><rect x="1969" y="293.8" width="206.2" height="147.8" rx="5" fill="#838385"/><rect x="1974.5" y="299.3" width="195.5" height="131" fill="#fff"/><rect x="1977.3" y="302.7" width="67.5" height="125.1" fill="#060303"/><path d="M2046.5 444.5 L2100 444.5 C2101 455 2106 462 2115 466 L2115 468.3 L2031.7 468.3 L2031.7 466 C2040.5 462 2045.5 455 2046.5 444.5Z" fill="#838385"/><clipPath id="scr"><rect x="2044.8" y="302.7" width="122" height="125.1"/></clipPath><g clip-path="url(#scr)"><rect x="2044.8" y="302.7" width="122" height="125.1" fill="#2a2a2a"/><path d="M2069.1 301L2122.3 340.3L2168 309.8L2168 301Z" fill="#787378"/><path d="M2044.1 345.1L2082.2 371.1L2044.1 398.7Z" fill="#787378"/><path d="M2060.3 428.5L2114.6 391.1L2118 396.3L2162.3 428.5Z" fill="#787378"/><path d="M2168 361.3L2157.3 365.8L2168 372.5Z" fill="#787378"/><path d="M2044.1 337L2086.5 367.7L2082.2 371.1L2044.1 345.1Z" fill="#1c1c1c"/><path d="M2116.8 388L2168 423.3L2168 428.5L2162.3 428.5L2118 396.3L2114.6 391.1Z" fill="#1c1c1c"/><path d="M2065.5 302.7L2121.5 341.5M2126.3 340.8L2166.8 312.9M2044.8 335.6L2088.9 366.5M2084.6 371.3L2044.8 399.9M2059.6 427.8L2112 391.1M2118 386.8L2166.8 421.4M2151.3 360.6L2166.8 351M2150.2 364.9L2166.8 376.1" stroke="#d9bc2b" stroke-width="0.9" fill="none"/><path d="M2044.8 310.5L2106.1 353.4M2141.8 348.7L2166.8 332.5M2131.1 374.4L2166.8 399.9M2096.5 382.8L2044.8 420.2" stroke="#fff" stroke-width="1.1" fill="none"/></g><path d="M1985.2 315.3 L2022 315.3" stroke="#e8c62a" stroke-width="1.4"/><path d="M1985.2 321.5 L2010.7 321.5" stroke="#5ab848" stroke-width="1.6"/><path d="M1985.2 327.7 L2010.7 327.7" stroke="#5ab848" stroke-width="1.6"/><path d="M1985.2 343.2 L2007 343.2" stroke="#e8c62a" stroke-width="1.4"/><path d="M1985.2 347.7 L2025 347.7" stroke="#9a9a9a" stroke-width="1"/><path d="M1985.2 352.2 L2025 352.2" stroke="#b9b9b9" stroke-width="1"/><path d="M1985.2 356.5 L2025 356.5" stroke="#cfcfcf" stroke-width="1"/><path d="M1985.2 360.6 L2025 360.6" stroke="#fff" stroke-width="1"/><path d="M1985.2 368.7 L1997.6 368.7" stroke="#5ab848" stroke-width="1.6"/><path d="M1985.2 374 L1997.6 374" stroke="#5ab848" stroke-width="1.6"/><path d="M1985.2 380.4 L2007 380.4" stroke="#e8c62a" stroke-width="1.4"/><path d="M1985.2 333.9 L2014 333.9" stroke="#fff" stroke-width="1.6" stroke-dasharray="7.6 3"/><path d="M1985.2 337.3 L2014 337.3" stroke="#fff" stroke-width="1.6" stroke-dasharray="7.6 3"/></g>
<g id="person"><path d="M171.9 191.9 C160 199 156 208 155.3 215.3 L152 257.6 L287.3 257.6 L283.9 215.3 C283 208 279 199 267.8 191.9Z" fill="#a8a8a8"/><path d="M207.7 178 L171.9 191.9 L177 257.6 L262.4 257.6 L267.8 191.9 L231.8 178Z" fill="#707070"/><path d="M208.7 179 L230.8 179 L219.7 221.8Z" fill="#a8a8a8"/><path d="M207.7 177 L231.8 177 L219.7 191.9Z" fill="#dcdcdc"/><path d="M174.8 224.8 L264.9 224.8 L264.2 233.8 L175.5 233.8Z M176.1 240.5 L263.5 240.5 L262.8 249.2 L176.8 249.2Z" fill="#c9c9c9"/><path d="M187 140 L252.2 140 L252.2 145.1 A32.6 32.6 0 0 1 187 145.1Z" fill="#dcdcdc"/><path d="M182.8 126 A37 37 0 0 1 256.8 126Z" fill="#a8a8a8"/><path d="M209.8 126 L207.7 89.5 Q207.7 84.9 212.3 84.9 L227.4 84.9 Q232 84.9 232 89.5 L229.8 126Z" fill="#707070"/><path d="M197.3 99.1 L200.6 110.1 M242.3 99.1 L239.1 110.1" stroke="#707070" stroke-width="8.5" stroke-linecap="round"/><rect x="177" y="125" width="85.7" height="15.8" rx="7.9" fill="#707070"/></g>
<g id="mrc"><clipPath id="mc1"><rect x="370" y="70" width="200" height="136.2"/></clipPath><clipPath id="mc2"><rect x="370" y="70" width="200" height="124.1"/></clipPath><g clip-path="url(#mc1)" fill="#1b8080"><circle cx="410.8" cy="179" r="27.2"/><circle cx="436" cy="145.7" r="37.8"/><circle cx="494.9" cy="146.7" r="60.6"/><circle cx="530" cy="176" r="30.2"/><rect x="410.8" y="150" width="120" height="56.2"/></g><g clip-path="url(#mc2)" fill="#fff"><circle cx="410.8" cy="179" r="15.1"/><circle cx="436" cy="145.7" r="25.7"/><circle cx="494.9" cy="146.7" r="48.5"/><circle cx="530" cy="176" r="18.1"/><rect x="410.8" y="150" width="120" height="44.1"/></g><path d="M430.2 148.5 L451.7 174.6 L475.6 124.2 L498.3 146.9 L515.1 123" fill="none" stroke="#1b8080" stroke-width="2.3" stroke-linejoin="round"/><circle cx="430.2" cy="148.5" r="8.7" fill="#1b8080"/><circle cx="451.7" cy="174.6" r="7" fill="#1b8080"/><circle cx="475.6" cy="124.2" r="5.4" fill="#1b8080"/><circle cx="498.3" cy="146.9" r="5" fill="#1b8080"/><circle cx="515.1" cy="123" r="4" fill="#1b8080"/><path d="M552.9 115.7L574.7 120.4Q577.4 136.2 592.4 138C592.9 170 576.9 195.4 552.9 206.4C528.9 195.4 512.9 170 513.4 138Q528.4 136.2 531.1 120.4Z" fill="#737271"/><path d="M552.9 125.6L567 128.1Q569.4 144 583.2 145.8C583.7 169.8 570.9 186.9 552.9 195.9C534.9 186.9 522.1 169.8 522.6 145.8Q536.4 144 538.8 128.1Z" fill="none" stroke="#fff" stroke-width="4"/><text x="327.6" y="255" font-size="49" font-weight="bold" fill="#1b8080" stroke="#1b8080" stroke-width="0.6" textLength="108.6" lengthAdjust="spacingAndGlyphs">MRC</text><text x="443" y="255" font-size="35" font-weight="bold" fill="#1b8080" textLength="169.6" lengthAdjust="spacingAndGlyphs">Quick Link</text><path d="M626 219.3 L671 219.3 Q673 219.3 672.3 221 L666.6 236 Q666 237.3 664.5 237.3 L618.6 237.3 Q616.8 237.3 617.6 235.8 L623.6 220.6 Q624.2 219.3 626 219.3Z" fill="#1b8080"/><text x="627.6" y="232.8" font-size="13.4" font-weight="bold" font-style="italic" fill="#fff" textLength="34.5" lengthAdjust="spacingAndGlyphs">Ultra</text></g>
<path d="M1973.9 35.7 L2021.1 35.7" stroke="#0a9fe6" stroke-width="6.1"/>
<path d="M1973.9 90.4 L2019 90.4" stroke="#0a9fe6" stroke-width="6.1" stroke-dasharray="8.8 3.2"/>
<path d="M1973.9 141.8 L2019 141.8" stroke="#04878a" stroke-width="6.1" stroke-dasharray="8.8 3.2"/>
<path d="M1973.9 196.7 L2021.1 196.7" stroke="#fb670a" stroke-width="6.1"/>
<text x="21.3" y="61.7" font-size="35" fill="#58585a" stroke="#58585a" stroke-width="0.85" textLength="397" lengthAdjust="spacingAndGlyphs">SI Remote Maintenance</text>
<text x="2034.3" y="49.2" font-size="35.6" fill="#58585a" stroke="#58585a" stroke-width="0.85" textLength="139.6" lengthAdjust="spacingAndGlyphs">Ethernet</text>
<text x="2034.3" y="102.4" font-size="35.6" fill="#58585a" stroke="#58585a" stroke-width="0.85" textLength="117" lengthAdjust="spacingAndGlyphs">LTE 4G</text>
<text x="2034.3" y="154.6" font-size="35.6" fill="#58585a" stroke="#58585a" stroke-width="0.85" textLength="70.5" lengthAdjust="spacingAndGlyphs">VPN</text>
<text x="2034.3" y="208" font-size="35.6" fill="#58585a" stroke="#58585a" stroke-width="0.85" textLength="91" lengthAdjust="spacingAndGlyphs">Serial</text>
<text x="1570.5" y="256.6" font-size="47.3" fill="#58585a" font-weight="bold" textLength="178" lengthAdjust="spacingAndGlyphs">Internet</text>
<text x="1848.6" y="511.3" font-size="35.4" fill="#58585a" stroke="#58585a" stroke-width="0.85" textLength="328.4" lengthAdjust="spacingAndGlyphs">Traffic Management</text>
<text x="1903.9" y="549" font-size="35.4" fill="#58585a" stroke="#58585a" stroke-width="0.85" textLength="217" lengthAdjust="spacingAndGlyphs">Center (TMC)</text>
<text x="116.4" y="831.6" font-size="35.4" fill="#58585a" stroke="#58585a" stroke-width="0.85" textLength="92.8" lengthAdjust="spacingAndGlyphs">CCTV</text>
<text x="50" y="1114.7" font-size="35.4" fill="#58585a" stroke="#58585a" stroke-width="0.85" textLength="211.3" lengthAdjust="spacingAndGlyphs">Traffic Signal</text>
<text x="74.7" y="1152.4" font-size="35.4" fill="#58585a" stroke="#58585a" stroke-width="0.85" textLength="163.4" lengthAdjust="spacingAndGlyphs">Controller</text>
<text x="382.6" y="1057.3" font-size="39.4" fill="#58585a" font-weight="bold" textLength="365" lengthAdjust="spacingAndGlyphs">OnCell G4302-LTE4</text>
<text x="382.6" y="1095.6" font-size="35.4" fill="#58585a" stroke="#58585a" stroke-width="0.85" textLength="247.4" lengthAdjust="spacingAndGlyphs">Cellular Router</text>
</svg>
</body></html>
